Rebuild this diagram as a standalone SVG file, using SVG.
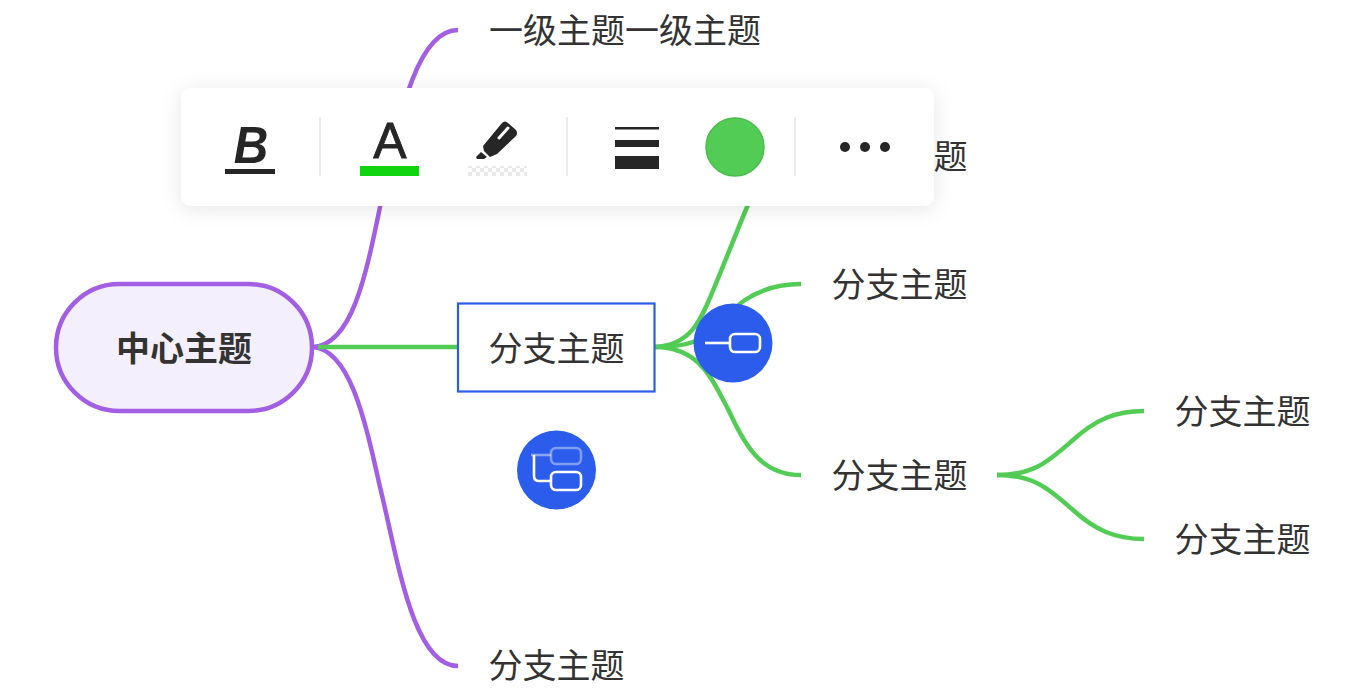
<svg xmlns="http://www.w3.org/2000/svg" width="1360" height="700" viewBox="0 0 1360 700">
<defs>
<style>
text{font-family:"Noto Sans CJK SC","Liberation Sans",sans-serif;fill:#333;font-size:34px;text-anchor:middle}
.c{fill:none;stroke-width:4.500;stroke-linecap:butt}
.p{stroke:#a25fe3}
.g{stroke:#52cc54}
.sep{stroke:#ececec;stroke-width:2}
.ic{fill:none;stroke:#fff;stroke-width:2.600}
.k{fill:#262626}
</style>
<filter id="sh" x="-8%" y="-40%" width="116%" height="190%"><feDropShadow dx="0" dy="3" stdDeviation="10" flood-color="#000" flood-opacity="0.1"/></filter>
<pattern id="chk" width="8" height="8" patternUnits="userSpaceOnUse"><rect width="8" height="8" fill="#fff"/><rect width="4" height="4" fill="#e8e8e8"/><rect x="4" y="4" width="4" height="4" fill="#e8e8e8"/></pattern>
</defs>
<rect width="1360" height="700" fill="#fff"/>
<g id="connectors">
<path class="c p" d="M313 347C352 345 366 275 380 207C394 150 410 30 458 30"/>
<path class="c p" d="M313 347C350 350 365 420 380 487C397 555 412 666 458 666"/>
<path class="c g" d="M318 347H458"/>
<path class="c g" d="M655 347C690 345 700 322 712 293C725 262 738 228 750 200"/>
<path class="c g" d="M655 347C675 347 685 345 693 342C712 334 730 310 745 300C760 290 780 284 801 284"/>
<path class="c g" d="M655 347C700 347 712 380 727 407C745 445 760 475 801 475"/>
<path class="c g" d="M997 475C1035 475 1050 460 1073 440C1095 420 1115 411 1144 411"/>
<path class="c g" d="M997 475C1035 475 1050 490 1073 510C1095 530 1115 539 1144 539"/>
</g>
<g id="root"><rect x="56" y="284" width="256" height="127" rx="63.500" fill="#f4effc" stroke="#a25fe3" stroke-width="4.500"/><text x="184" y="361" style="font-weight:700">中心主题</text></g>
<g id="t1"><text x="625" y="43">一级主题一级主题</text></g>
<g id="t2"><text x="899.500" y="169">分支主题</text></g>
<g id="t3"><text x="899.500" y="297">分支主题</text></g>
<g id="sel"><rect x="458" y="303.500" width="196.500" height="88" fill="#fff" stroke="#2b5cec" stroke-width="2.200"/><text x="556.500" y="361">分支主题</text></g>
<g id="t4"><text x="899.500" y="488">分支主题</text></g>
<g id="t5"><text x="1242.500" y="424">分支主题</text></g>
<g id="t6"><text x="1242.500" y="552">分支主题</text></g>
<g id="t7"><text x="556.500" y="678">分支主题</text></g>
<g id="btn-sibling"><circle cx="733" cy="343" r="39.500" fill="#2b5cec"/><path class="ic" d="M705 343H730"/><rect class="ic" x="730" y="334" width="30" height="18" rx="5"/></g>
<g id="btn-child"><circle cx="556.500" cy="470" r="39.500" fill="#2b5cec"/><path class="ic" d="M531 455H551" opacity=".45"/><path class="ic" d="M534 455V476Q534 481 539 481H551"/><rect class="ic" x="551" y="448" width="30" height="16" rx="5" opacity=".4"/><rect class="ic" x="551" y="472" width="30" height="18" rx="5"/></g>
<g id="toolbar">
<rect x="181" y="88" width="753" height="118" rx="10" fill="#fff" filter="url(#sh)"/>
<path class="sep" d="M320 117V176M567 117V176M795 117V176"/>
<text transform="translate(251 163) scale(.92 1)" style="font-family:'Liberation Sans',sans-serif;font-size:52px;font-weight:700;font-style:italic;fill:#262626">B</text>
<rect class="k" x="225" y="169" width="50" height="5"/>
<text x="390" y="158" style="font-family:'Liberation Sans',sans-serif;font-size:50px;fill:#262626;stroke:#262626;stroke-width:.8">A</text>
<rect x="360" y="166" width="59" height="10" fill="#0fd40f"/>
<path class="k" d="M483 146L502 123Q505 120 508 123L516 130Q518 133 516 136L497 154L490 157L484 151ZM476 157L481 152L487 157L484 159H477Z"/>
<path d="M499 138L508 128" stroke="#fff" stroke-width="3" stroke-linecap="round"/>
<rect x="468" y="166" width="59" height="10" fill="url(#chk)"/>
<rect class="k" x="615" y="127" width="44" height="2.500"/>
<rect class="k" x="615" y="140" width="44" height="7"/>
<rect class="k" x="615" y="156" width="44" height="13"/>
<circle cx="735" cy="147" r="29" fill="#52cc54" stroke="#4cbb4e" stroke-width="1.500"/>
<circle class="k" cx="845" cy="147" r="5"/><circle class="k" cx="865" cy="147" r="5"/><circle class="k" cx="885" cy="147" r="5"/>
</g>
</svg>
